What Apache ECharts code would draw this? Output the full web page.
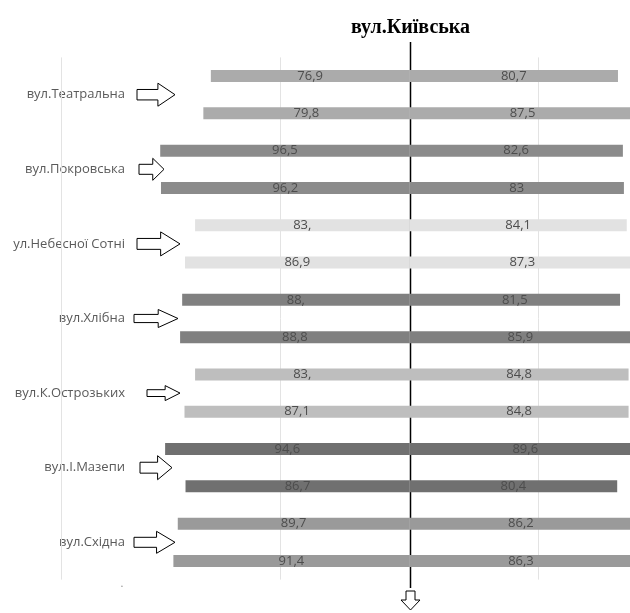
<!DOCTYPE html>
<html>
<head>
<meta charset="utf-8">
<script src="https://cdn.jsdelivr.net/npm/echarts@6/dist/echarts.min.js"></script>
<style>
  html, body { margin: 0; padding: 0; background: #fff; }
  #chart { width: 630px; height: 613px; }
</style>
</head>
<body>
<div id="chart"></div>
<script>
// Streets (two bar rows each) and the heading street
const streets = ['вул.Театральна', 'вул.Покровська', 'ул.Небесної Сотні', 'вул.Хлібна',
                 'вул.К.Острозьких', 'вул.І.Мазепи', 'вул.Східна'];
const mainStreet = 'вул.Київська';

// Row keys: two rows per street
const rows = streets.flatMap(s => [s + ' · 1', s + ' · 2']);

// Values drawn to the left and to the right of the central axis
const leftValues  = [76.9, 79.8, 96.5, 96.2, 83, 86.9, 88, 88.8, 83, 87.1, 94.6, 86.7, 89.7, 91.4];
const rightValues = [80.7, 87.5, 82.6, 83, 84.1, 87.3, 81.5, 85.9, 84.8, 84.8, 89.6, 80.4, 86.2, 86.3];

// Gridline positions on the value axis
const gridValues = [-135, -50, 50];

// One grey tone per street
const streetColors = ['#ababab', '#8b8b8b', '#e2e2e2', '#808080', '#bebebe', '#707070', '#9a9a9a'];

// Outline arrows beside each street name: [left x, length, height]
const arrowShapes = [[137, 38, 23], [139, 25, 22], [137, 43, 24], [134, 44, 18],
                     [147, 33, 15], [140, 32, 24], [134, 41, 22]];

const FONT = '"Open Sans", "Liberation Sans", sans-serif';

const fmtLeft  = v => Number.isInteger(v) ? v + ',' : String(v).replace('.', ',');
const fmtRight = v => String(v).replace('.', ',');

const chart = echarts.init(document.getElementById('chart'), null, { renderer: 'canvas' });

const barLabel = {
  show: true,
  position: 'inside',
  color: '#4d4d4d',
  fontFamily: FONT,
  fontSize: 13
};

chart.setOption({
  animation: false,
  backgroundColor: '#ffffff',
  grid: {
    left: 22, width: 620, top: 57.4, height: 522.2,
    containLabel: false,
    outerBoundsMode: 'none'
  },
  xAxis: {
    type: 'value',
    min: -150,
    max: 90,
    show: false,
    splitLine: { show: false }
  },
  yAxis: [
    {
      type: 'category',
      data: rows,
      inverse: true,
      show: false
    },
    {
      type: 'category',
      data: streets,
      inverse: true,
      position: 'left',
      offset: -103,
      axisLine: { show: false },
      axisTick: { show: false },
      splitLine: { show: false },
      axisLabel: {
        margin: 0,
        color: '#5a5a5a',
        fontFamily: FONT,
        fontSize: 13
      }
    }
  ],
  series: [
    {
      name: 'left',
      type: 'bar',
      stack: 'row',
      yAxisIndex: 0,
      barWidth: 12,
      data: leftValues.map(v => -v),
      itemStyle: { color: p => streetColors[Math.floor(p.dataIndex / 2)] },
      label: Object.assign({}, barLabel, { formatter: p => fmtLeft(-p.value) }),
      clip: false
    },
    {
      name: 'right',
      type: 'bar',
      stack: 'row',
      yAxisIndex: 0,
      barWidth: 12,
      data: rightValues,
      itemStyle: { color: p => streetColors[Math.floor(p.dataIndex / 2)] },
      label: Object.assign({}, barLabel, { formatter: p => fmtRight(p.value) }),
      clip: false,
      markLine: {
        silent: true,
        z: 1,
        symbol: 'none',
        label: { show: false },
        lineStyle: { color: '#e3e3e3', width: 1, type: 'solid' },
        data: gridValues.map(v => ({ xAxis: v }))
      }
    }
  ]
});

// Central axis, heading and arrows placed from the chart's own scales
const cx = Math.round(chart.convertToPixel({ xAxisIndex: 0 }, 0)) + 0.5;
const graphics = [];

graphics.push({
  type: 'text',
  x: cx, y: 28,
  style: {
    text: mainStreet,
    fill: '#000',
    font: 'bold 20px "Liberation Serif", "Times New Roman", serif',
    align: 'center',
    verticalAlign: 'middle'
  }
});

graphics.push({
  type: 'line',
  shape: { x1: cx, y1: 42, x2: cx, y2: 588 },
  style: { stroke: '#000', lineWidth: 1.5 }
});

// Downward outline arrow under the central axis
graphics.push({
  type: 'polygon',
  shape: {
    points: [[cx - 4.5, 591], [cx + 4.5, 591], [cx + 4.5, 600], [cx + 9.5, 600],
             [cx, 610], [cx - 9.5, 600], [cx - 4.5, 600]]
  },
  style: { fill: '#fff', stroke: '#000', lineWidth: 1 }
});

streets.forEach((s, i) => {
  const cy = chart.convertToPixel({ yAxisIndex: 1 }, s);
  const [x0, len, h] = arrowShapes[i];
  const hh = h / 2, sh = h / 4.4, xh = x0 + len * 0.55, x1 = x0 + len;
  graphics.push({
    type: 'polygon',
    shape: {
      points: [[x0, cy - sh], [xh, cy - sh], [xh, cy - hh], [x1, cy],
               [xh, cy + hh], [xh, cy + sh], [x0, cy + sh]]
    },
    style: { fill: '#fff', stroke: '#000', lineWidth: 1 }
  });
});

// Small stray dot below the last street name
const lastY = chart.convertToPixel({ yAxisIndex: 0 }, rows[rows.length - 1]);
graphics.push({
  type: 'text',
  x: 122, y: lastY + 23,
  style: { text: '.', fill: '#8a8a8a', font: '11px ' + FONT, align: 'center', verticalAlign: 'middle' }
});

chart.setOption({ graphic: graphics });
</script>
</body>
</html>
